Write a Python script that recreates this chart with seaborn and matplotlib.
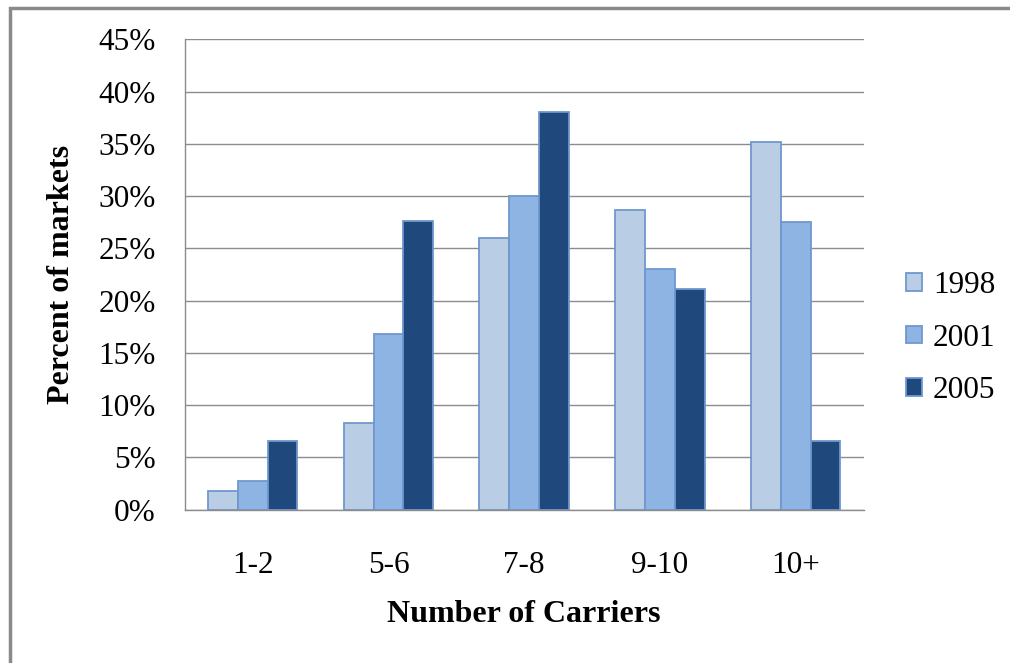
import matplotlib
matplotlib.use('Agg')
import matplotlib.pyplot as plt
from matplotlib.patches import Rectangle
from matplotlib.ticker import FixedLocator, PercentFormatter
import seaborn as sns
import pandas as pd

# values (percent of markets)
carriers = ['1-2', '5-6', '7-8', '9-10', '10+']
years = ['1998', '2001', '2005']
pct_1998 = [1.8, 8.3, 26.0, 28.7, 35.2]
pct_2001 = [2.7, 16.8, 30.0, 23.0, 27.5]
pct_2005 = [6.6, 27.6, 38.1, 21.1, 6.6]
colors = ['#B9CDE5', '#8EB4E3', '#1F497D']

df = pd.DataFrame({
    'Carriers': carriers * 3,
    'Year': [y for y in years for _ in carriers],
    'Percent': pct_1998 + pct_2001 + pct_2005,
})

sns.set_style('white')
plt.rcParams['font.family'] = ['Liberation Serif', 'DejaVu Serif']
plt.rcParams['text.color'] = 'black'
plt.rcParams['axes.labelcolor'] = 'black'
plt.rcParams['xtick.labelcolor'] = 'black'
plt.rcParams['ytick.labelcolor'] = 'black'

fig = plt.figure(figsize=(10.1, 6.63), dpi=100)
ax = fig.add_axes([0.183, 0.2315, 0.672, 0.709])

sns.barplot(data=df, x='Carriers', y='Percent', hue='Year', order=carriers,
            hue_order=years, palette=colors, width=0.66, edgecolor='#6F97CE',
            linewidth=1.3, saturation=1, ax=ax)

grid_c = '#8C8C8C'
ax.set_ylim(0, 45)
ax.set_xlim(-0.5, len(carriers) - 0.5)
ax.yaxis.set_major_locator(FixedLocator(range(0, 46, 5)))
ax.yaxis.set_major_formatter(PercentFormatter(decimals=0))
ax.yaxis.grid(True, color=grid_c, linewidth=1)
ax.set_axisbelow(True)

ax.xaxis.set_major_locator(FixedLocator([i - 0.5 for i in range(len(carriers) + 1)]))
ax.xaxis.set_minor_locator(FixedLocator(range(len(carriers))))
ax.set_xticklabels([], minor=False)
ax.set_xticklabels(carriers, minor=True)
ax.tick_params(axis='x', which='major', direction='out', length=8, width=1, color=grid_c)
ax.tick_params(axis='x', which='minor', length=0, pad=30, labelsize=22.5, labelcolor='black')
ax.tick_params(axis='y', direction='out', length=7, width=1, color=grid_c, pad=14,
               labelsize=22.5, labelcolor='black')

for side in ['top', 'right']:
    ax.spines[side].set_visible(False)
for side in ['left', 'bottom']:
    ax.spines[side].set_color(grid_c)
    ax.spines[side].set_linewidth(1)

ax.set_xlabel('Number of Carriers', fontsize=23, fontweight='bold', labelpad=14, color='black')
ax.set_ylabel('Percent of markets', fontsize=23, fontweight='bold', labelpad=16, color='black')

leg = ax.legend(loc='center left', bbox_to_anchor=(0.885, 0.49), bbox_transform=fig.transFigure,
                frameon=False, fontsize=22.5, handlelength=0.5, handleheight=0.5,
                handletextpad=0.35, labelspacing=0.75, borderaxespad=0)
for t in leg.get_texts():
    t.set_color('black')

# outer chart frame
fig.patches.append(Rectangle((10 / 1010, -0.1), 1.2, 1.1 - 8 / 663,
                             transform=fig.transFigure, fill=False,
                             edgecolor='#8A8A8A', linewidth=2.5))

fig.savefig('out.png', dpi=100)
